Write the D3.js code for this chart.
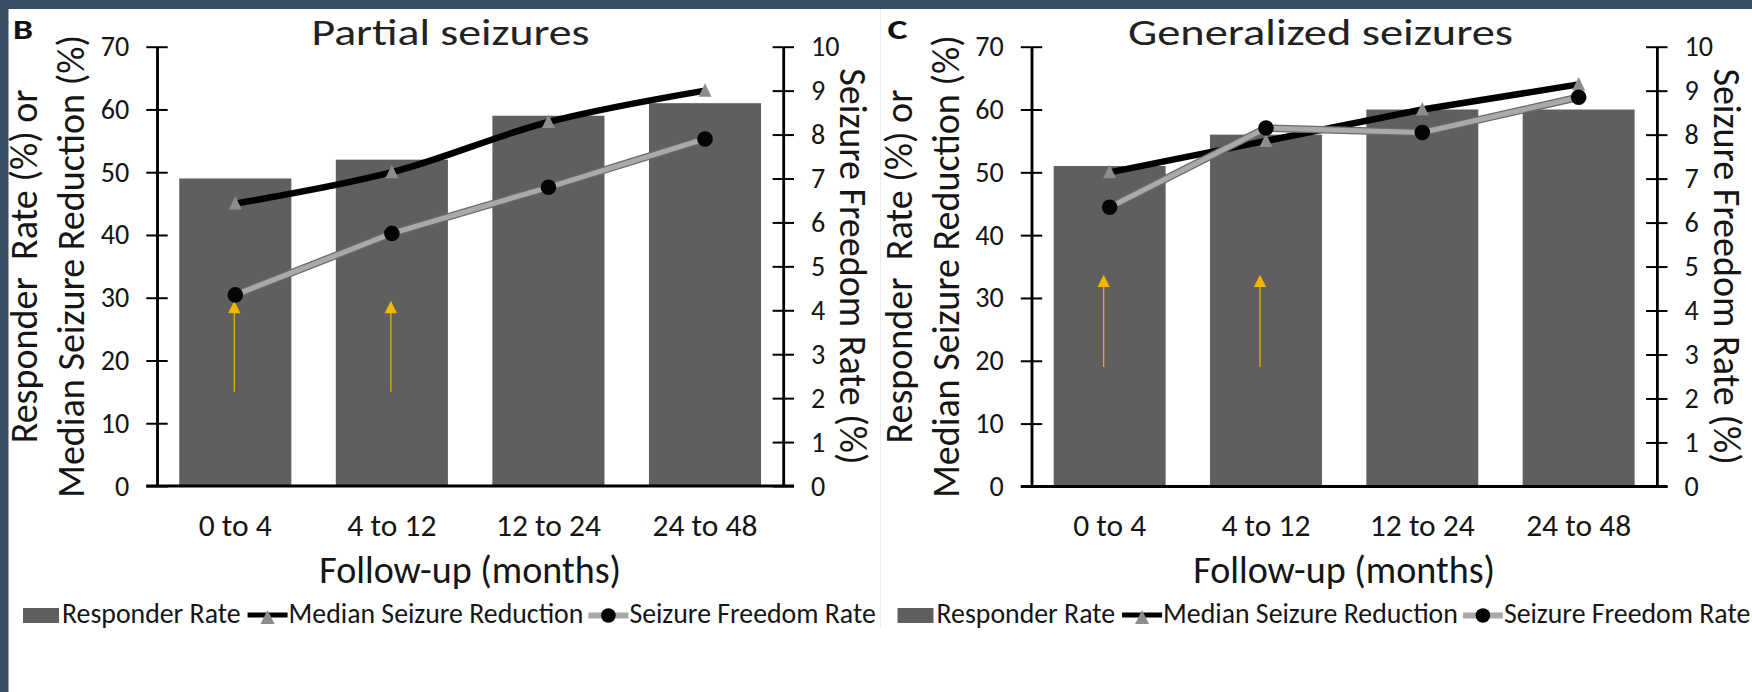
<!DOCTYPE html>
<html><head><meta charset="utf-8">
<script src="https://cdn.jsdelivr.net/npm/d3@7"></script>
<style>html,body{margin:0;padding:0;background:#fff;overflow:hidden}</style>
</head><body><svg id="c" width="1752" height="692"></svg>
<script>
// ---------- data ----------
const categories = ["0 to 4", "4 to 12", "12 to 24", "24 to 48"];
const leftTicks = [0, 10, 20, 30, 40, 50, 60, 70];
const rightTicks = [0, 1, 2, 3, 4, 5, 6, 7, 8, 9, 10];

const partialResponder = [49, 52, 59, 61];
const partialMedian = [45, 50, 58, 63];
const partialFreedom = [4.35, 5.75, 6.8, 7.9];

const generalResponder = [51, 56, 60, 60];
const generalMedian = [50, 55, 60, 64];
const generalFreedom = [6.35, 8.15, 8.05, 8.85];

// annotation arrows: category, start value, tip value (left axis units)
const partialArrows = [["0 to 4", 15, 29.5], ["4 to 12", 15, 29.5]];
const generalArrows = [["0 to 4", 19, 33.7], ["4 to 12", 19, 33.7]];

const legendLabels = ["Responder Rate", "Median Seizure Reduction", "Seizure Freedom Rate"];

// ---------- setup ----------
const FONT = "Carlito, Calibri, Lato, sans-serif";
const W = 1752, H = 692;
const svg = d3.select("#c");
svg.append("rect").attr("width", W).attr("height", H).attr("fill", "#fff");

function sizeFor(str, target, weight) {
  const t = svg.append("text").attr("font-family", FONT).attr("font-size", 100)
    .attr("font-weight", weight || 400).text(str);
  const w = t.node().getComputedTextLength();
  t.remove();
  return 100 * target / w;
}
const axisTitleSize = sizeFor("Follow-up (months)", 302);
const xTickSize = sizeFor("24 to 48", 105);
const yTickSize = sizeFor("70", 28.5);
const legendSize = sizeFor("Median Seizure Reduction", 295);

const BAR = "#5f5f5f", TXT = "#151515";

function drawPanel(cfg) {
  const { left, right, top, bottom } = cfg;
  const g = svg.append("g");
  const x = d3.scaleBand().domain(categories).range([left, right])
    .paddingInner(0.284).paddingOuter(0.142);
  const cx = c => x(c) + x.bandwidth() / 2;
  const yL = d3.scaleLinear().domain([0, 70]).range([bottom, top]);
  const yR = d3.scaleLinear().domain([0, 10]).range([bottom, top]);

  // bars
  g.selectAll("rect.bar").data(cfg.responder).join("rect").attr("class", "bar")
    .attr("x", (d, i) => x(categories[i])).attr("width", x.bandwidth())
    .attr("y", d => yL(d)).attr("height", d => yL(0) - yL(d)).attr("fill", BAR);

  // arrows
  cfg.arrows.forEach(a => {
    const ax = cx(a[0]) - cfg.arrowShift;
    const y0 = yL(a[1]), y1 = yL(a[2]);
    g.append("line").attr("x1", ax).attr("x2", ax).attr("y1", y0).attr("y2", y1 + 10)
      .attr("stroke", "#f2b400").attr("stroke-width", 1.2);
    g.append("path").attr("d", `M${ax},${y1}L${ax + 6.2},${y1 + 12.3}L${ax - 6.2},${y1 + 12.3}Z`)
      .attr("fill", "#f7b500");
  });

  // axes
  const axStyle = sel => {
    sel.selectAll("path.domain").attr("stroke", "#000").attr("stroke-width", 2.5);
    sel.selectAll(".tick line").attr("stroke", "#000").attr("stroke-width", 2);
    sel.selectAll("text").attr("font-family", FONT).attr("font-size", yTickSize).attr("fill", TXT);
  };
  g.append("g").attr("transform", `translate(${left},0)`)
    .call(d3.axisLeft(yL).tickValues(leftTicks).tickSize(10.7).tickSizeOuter(0).tickPadding(17))
    .call(axStyle);
  g.append("g").attr("transform", `translate(${left},0)`)
    .call(d3.axisRight(yL).tickValues(leftTicks).tickSize(10.7).tickSizeOuter(0).tickFormat(""))
    .call(axStyle);
  g.append("g").attr("transform", `translate(${right},0)`)
    .call(d3.axisRight(yR).tickValues(rightTicks).tickSize(10.7).tickSizeOuter(0).tickPadding(17))
    .call(axStyle);
  g.append("g").attr("transform", `translate(${right},0)`)
    .call(d3.axisLeft(yR).tickValues(rightTicks).tickSize(10.7).tickSizeOuter(0).tickFormat(""))
    .call(axStyle);

  // x axis
  const xa = g.append("g").attr("transform", `translate(0,${bottom})`)
    .call(d3.axisBottom(x).tickSize(0).tickSizeOuter(0));
  xa.select("path.domain").remove();
  xa.selectAll("text").attr("font-family", FONT).attr("font-size", xTickSize).attr("fill", TXT)
    .attr("y", 50).attr("dy", 0);
  g.append("line").attr("x1", left - 10.7).attr("x2", right + 10.7)
    .attr("y1", yL(0)).attr("y2", yL(0)).attr("stroke", "#000").attr("stroke-width", 3);

  // median seizure reduction (black line + gray triangles)
  const lineL = d3.line().x((d, i) => cx(categories[i])).y(d => yL(d)).curve(cfg.curve);
  g.append("path").attr("d", lineL(cfg.median)).attr("fill", "none")
    .attr("stroke", "#000").attr("stroke-width", 6.5).attr("stroke-linejoin", "round");
  g.selectAll("path.tri").data(cfg.median).join("path").attr("class", "tri")
    .attr("d", (d, i) => { const px = cx(categories[i]), py = yL(d);
      return `M${px},${py - 7.5}L${px + 6.5},${py + 6}L${px - 6.5},${py + 6}Z`; })
    .attr("fill", "#8d8d8d");

  // seizure freedom rate (gray line + black dots)
  const lineR = d3.line().x((d, i) => cx(categories[i])).y(d => yR(d));
  g.append("path").attr("d", lineR(cfg.freedom)).attr("fill", "none")
    .attr("stroke", "#6a6a6a").attr("stroke-width", 7.5);
  g.append("path").attr("d", lineR(cfg.freedom)).attr("fill", "none")
    .attr("stroke", "#a9a9a9").attr("stroke-width", 5);
  g.selectAll("circle.dot").data(cfg.freedom).join("circle").attr("class", "dot")
    .attr("cx", (d, i) => cx(categories[i])).attr("cy", d => yR(d)).attr("r", 7.8)
    .attr("fill", "#050505");

  // titles
  const mid = (left + right) / 2;
  g.append("text").attr("x", left + cfg.titleDx).attr("y", 45).attr("text-anchor", "middle")
    .attr("font-family", FONT).attr("font-size", 36).attr("fill", "#222")
    .attr("textLength", cfg.titleW).attr("lengthAdjust", "spacingAndGlyphs").text(cfg.title);
  g.append("text").attr("x", left - 144).attr("y", 39)
    .attr("font-family", FONT).attr("font-size", 29).attr("font-weight", 700).attr("fill", "#111")
    .attr("textLength", 20).attr("lengthAdjust", "spacingAndGlyphs").text(cfg.letter);
  g.append("text").attr("x", mid).attr("y", 583).attr("text-anchor", "middle")
    .attr("font-family", FONT).attr("font-size", axisTitleSize).attr("fill", TXT)
    .text("Follow-up (months)");
  const ymid = (top + bottom) / 2;
  [["Responder\u00a0\u00a0Rate (%) or", left - 120], ["Median Seizure Reduction (%)", left - 73]]
    .forEach(([t, bx]) => {
      g.append("text").attr("transform", `translate(${bx},${ymid}) rotate(-90)`)
        .attr("text-anchor", "middle").attr("font-family", FONT).attr("font-size", axisTitleSize)
        .attr("fill", TXT).text(t);
    });
  g.append("text").attr("transform", `translate(${right + 57},${ymid}) rotate(90)`)
    .attr("text-anchor", "middle").attr("font-family", FONT).attr("font-size", axisTitleSize)
    .attr("fill", TXT).text("Seizure Freedom Rate (%)");

  // legend
  let lx = left - 134;
  const ly = 623;
  g.append("rect").attr("x", lx).attr("y", 608).attr("width", 36).attr("height", 15).attr("fill", BAR);
  lx += 39;
  const addText = (t) => {
    const el = g.append("text").attr("x", lx).attr("y", ly).attr("font-family", FONT)
      .attr("font-size", legendSize).attr("fill", TXT).text(t);
    lx += el.node().getComputedTextLength();
  };
  addText(legendLabels[0]);
  lx += 7;
  g.append("line").attr("x1", lx).attr("x2", lx + 40).attr("y1", 615).attr("y2", 615)
    .attr("stroke", "#000").attr("stroke-width", 5);
  g.append("path").attr("d", `M${lx + 20},${610}L${lx + 27},${624}L${lx + 13},${624}Z`).attr("fill", "#8d8d8d");
  lx += 41;
  addText(legendLabels[1]);
  lx += 5;
  g.append("line").attr("x1", lx).attr("x2", lx + 40).attr("y1", 615.5).attr("y2", 615.5)
    .attr("stroke", "#a9a9a9").attr("stroke-width", 6);
  g.append("circle").attr("cx", lx + 20).attr("cy", 615.5).attr("r", 7.3).attr("fill", "#050505");
  lx += 41;
  addText(legendLabels[2]);
}

drawPanel({ left: 157, right: 783.3, top: 46.7, bottom: 486, responder: partialResponder,
  median: partialMedian, freedom: partialFreedom, arrows: partialArrows, arrowShift: 1,
  curve: d3.curveCatmullRom.alpha(0.5), title: "Partial seizures", titleW: 278, titleDx: 293.5, letter: "B" });
drawPanel({ left: 1031.5, right: 1656.8, top: 46.7, bottom: 486.4, responder: generalResponder,
  median: generalMedian, freedom: generalFreedom, arrows: generalArrows, arrowShift: 6,
  curve: d3.curveLinear, title: "Generalized seizures", titleW: 385, titleDx: 289, letter: "C" });

// panel divider and frame
svg.append("line").attr("x1", 880.5).attr("x2", 880.5).attr("y1", 9).attr("y2", 628)
  .attr("stroke", "#ececec").attr("stroke-width", 1);
svg.append("rect").attr("x", 0).attr("y", 0).attr("width", W).attr("height", 9).attr("fill", "#3a4e63");
svg.append("rect").attr("x", 0).attr("y", 0).attr("width", 8.5).attr("height", H).attr("fill", "#3a4e63");
</script></body></html>
